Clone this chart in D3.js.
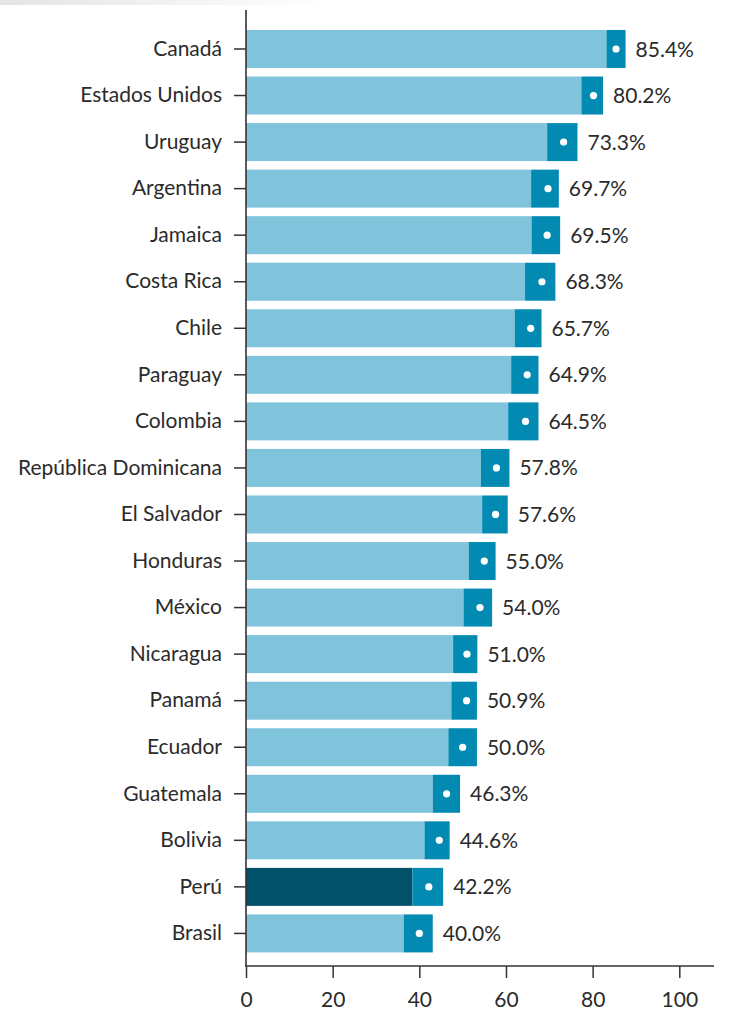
<!DOCTYPE html>
<html>
<head>
<meta charset="utf-8">
<script src="https://cdn.jsdelivr.net/npm/d3@7/dist/d3.min.js"></script>
<style>
  html, body { margin: 0; padding: 0; background: #fff; }
  svg { display: block; }
  text { font-family: Lato, "Open Sans", sans-serif; }
</style>
</head>
<body>
<svg id="chart" width="746" height="1019"></svg>
<script>
const countries = ["Canadá","Estados Unidos","Uruguay","Argentina","Jamaica","Costa Rica","Chile","Paraguay","Colombia","República Dominicana","El Salvador","Honduras","México","Nicaragua","Panamá","Ecuador","Guatemala","Bolivia","Perú","Brasil"];
const values = [85.4,80.2,73.3,69.7,69.5,68.3,65.7,64.9,64.5,57.8,57.6,55.0,54.0,51.0,50.9,50.0,46.3,44.6,42.2,40.0];
const lower  = [83.2,77.4,69.5,65.8,65.9,64.4,62.0,61.2,60.5,54.2,54.5,51.4,50.2,47.8,47.4,46.7,43.1,41.2,38.4,36.4];
const upper  = [87.6,82.4,76.5,72.2,72.5,71.4,68.2,67.5,67.5,60.8,60.4,57.6,56.8,53.4,53.3,53.3,49.4,47.0,45.5,43.1];
const highlight = "Perú";
const xTicks = [0,20,40,60,80,100];

const data = countries.map((c,i)=>({c, v:values[i], lo:lower[i], hi:upper[i]}));

const svg = d3.select("#chart");

// faint gradient strip at top
const defs = svg.append("defs");
const grad = defs.append("linearGradient").attr("id","topg").attr("x1","0").attr("x2","1");
grad.append("stop").attr("offset","0").attr("stop-color","#e4e4e6");
grad.append("stop").attr("offset","1").attr("stop-color","#ffffff");
svg.append("rect").attr("x",0).attr("y",0).attr("width",330).attr("height",5).attr("fill","url(#topg)");

const x = d3.scaleLinear().domain([0,100]).range([246,679.3]);
const y = d3.scaleBand().domain(countries).range([25.7,956.7]).paddingInner(0.184).paddingOuter(0.092);

const cLight = "#7fc4db", cMid = "#028ab3", cDark = "#03506a";
const txt = "#2b2b2b";

const g = svg.append("g");
// light/base bars
g.selectAll("rect.base").data(data).join("rect")
  .attr("class","base")
  .attr("x", x(0))
  .attr("y", d=>y(d.c))
  .attr("width", d=>x(d.lo)-x(0))
  .attr("height", y.bandwidth())
  .attr("fill", d=>d.c===highlight?cDark:cLight);
// CI segment
g.selectAll("rect.ci").data(data).join("rect")
  .attr("class","ci")
  .attr("x", d=>x(d.lo))
  .attr("y", d=>y(d.c))
  .attr("width", d=>x(d.hi)-x(d.lo))
  .attr("height", y.bandwidth())
  .attr("fill", cMid);
// dots
g.selectAll("circle").data(data).join("circle")
  .attr("cx", d=>x(d.v))
  .attr("cy", d=>y(d.c)+y.bandwidth()/2)
  .attr("r", 3.6)
  .attr("fill","#fff");
// value labels
g.selectAll("text.val").data(data).join("text")
  .attr("class","val")
  .attr("x", d=>x(d.hi)+10)
  .attr("y", d=>y(d.c)+y.bandwidth()/2)
  .attr("dy","0.36em")
  .attr("font-size",21)
  .attr("fill",txt)
  .text(d=>d.v.toFixed(1)+"%");

// y axis
const yAxis = svg.append("g").attr("transform","translate(246,0)")
  .call(d3.axisLeft(y).tickSize(12).tickPadding(12));
yAxis.select(".domain").remove();
yAxis.selectAll(".tick line").attr("stroke","#333").attr("stroke-width",1.5);
yAxis.selectAll(".tick text").attr("font-size",21).attr("fill",txt).attr("font-family","Lato, sans-serif");
svg.append("line").attr("x1",246).attr("x2",246).attr("y1",10).attr("y2",966.5)
  .attr("stroke","#333").attr("stroke-width",1.6);

// x axis
const xAxis = svg.append("g").attr("transform","translate(0,966)")
  .call(d3.axisBottom(x).tickValues(xTicks).tickSize(12).tickPadding(14).tickFormat(d3.format("d")));
xAxis.select(".domain").remove();
xAxis.selectAll(".tick line").attr("stroke","#333").attr("stroke-width",1.5);
xAxis.selectAll(".tick text").attr("font-size",21).attr("fill",txt).attr("font-family","Lato, sans-serif");
svg.append("line").attr("x1",245.2).attr("x2",714).attr("y1",966).attr("y2",966)
  .attr("stroke","#333").attr("stroke-width",1.6);
</script>
</body>
</html>
